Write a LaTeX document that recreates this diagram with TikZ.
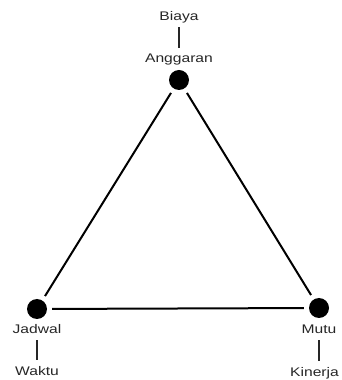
\documentclass[tikz,border=0pt]{standalone}
\usepackage{fontspec}
\newfontfamily\lblfont[FakeStretch=1.25]{Liberation Sans}
\usetikzlibrary{positioning}
\tikzset{
  dot/.style={circle,fill=black,inner sep=0pt,minimum size=20pt},
  lbl/.style={font=\lblfont\fontsize{12.5}{14}\selectfont,text=black!85,inner sep=1.5pt,text height=9pt,text depth=2.5pt},
  side/.style={line width=2pt,shorten <=5pt,shorten >=5pt},
  tick/.style={line width=1.5pt,black!85,shorten <=2pt,shorten >=4.5pt}
}
\begin{document}
\begin{tikzpicture}[x=1pt,y=1pt,>=stealth]
\useasboundingbox (0,0) rectangle (341,380);
\node[dot] (ang) at (179,300) {};
\node[dot] (jad) at (37,71) {};
\node[dot] (mut) at (319,72) {};
\draw[side] (ang)--(jad);\draw[side] (jad)--(mut);\draw[side] (mut)--(ang);
% labels
\node[lbl,above of=ang,node distance=20.25pt] (angl) {Anggaran};
\node[lbl,above of=angl,node distance=42pt] (biaya) {Biaya};
\draw[tick] (biaya)--(angl);
\node[lbl,below of=jad,node distance=21.75pt] (jadl) {Jadwal};
\node[lbl,below of=jadl,node distance=41pt] (waktu) {Waktu};
\draw[tick] (jadl)--(waktu);
\node[lbl,below of=mut,node distance=22.75pt] (mutl) {Mutu};
\node[lbl,below of=mutl,node distance=42pt,xshift=-4.5pt] (kinerja) {Kinerja};
\draw[tick] (mutl)--(mutl |- kinerja.north);
\end{tikzpicture}
\end{document}
